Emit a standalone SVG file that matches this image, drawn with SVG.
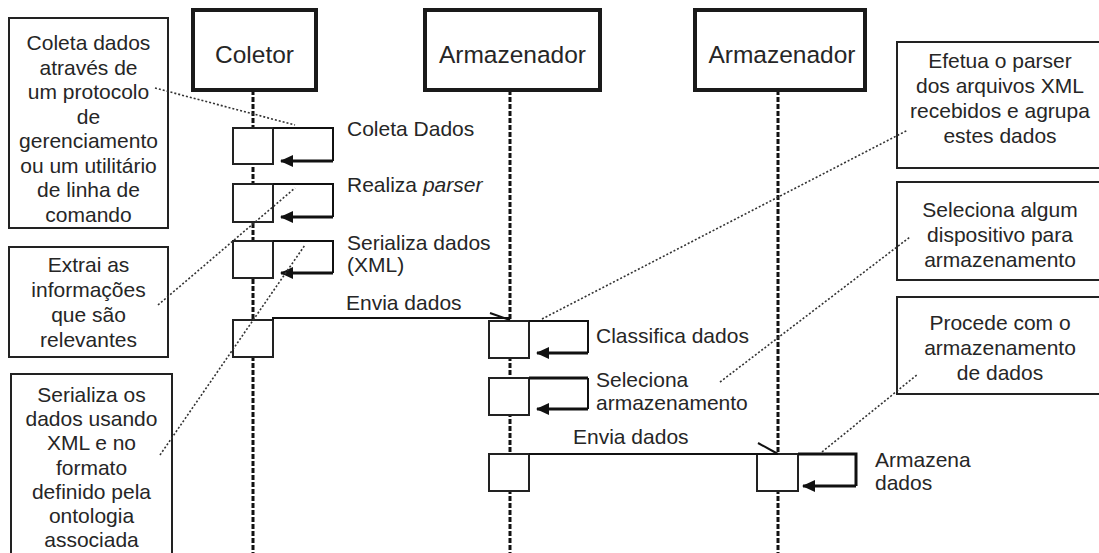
<svg xmlns="http://www.w3.org/2000/svg" width="1099" height="553" viewBox="0 0 1099 553">
<style>
text{font-family:"Liberation Sans",Arial,sans-serif;fill:#262626}
.n{font-size:21px;text-anchor:middle}
.m{font-size:21px}
.h{font-size:24.5px;text-anchor:middle}
.hdr{fill:#fff;stroke:#1a1a1a;stroke-width:4}
.note{fill:#fff;stroke:#222;stroke-width:2}
.act{fill:#fff;stroke:#222;stroke-width:2}
.life{stroke:#111;stroke-width:3;stroke-dasharray:5 2;fill:none}
.dot{stroke:#333;stroke-width:1.6;stroke-dasharray:2 2;fill:none}
.msg{stroke:#111;stroke-width:2;fill:none}
.ret{stroke:#111;stroke-width:3;fill:none}
</style>
<defs>
<marker id="ah" markerWidth="13" markerHeight="12" refX="12" refY="6" orient="auto" markerUnits="userSpaceOnUse">
<path d="M0,0 L13,6 L0,12 z" fill="#111"/>
</marker>
</defs>

<g id="lifelines">
<line class="life" x1="253" y1="90" x2="253" y2="553"/>
<line class="life" x1="510" y1="90" x2="510" y2="553"/>
<line class="life" x1="778" y1="90" x2="778" y2="553"/>
</g>

<g id="coletor">
<rect class="hdr" x="193" y="10" width="123" height="80"/>
<text class="h" x="254.5" y="63">Coletor</text>
</g>
<g id="armazenador1">
<rect class="hdr" x="425" y="10" width="175" height="80"/>
<text class="h" x="512.5" y="63">Armazenador</text>
</g>
<g id="armazenador2">
<rect class="hdr" x="695" y="10" width="170" height="80"/>
<text class="h" x="782" y="63">Armazenador</text>
</g>

<g id="note-coleta">
<rect class="note" x="9" y="18" width="159" height="210"/>
<text class="n" x="88.5" y="50">Coleta dados</text>
<text class="n" x="88.5" y="74.5">através de</text>
<text class="n" x="88.5" y="99">um protocolo</text>
<text class="n" x="88.5" y="123.5">de</text>
<text class="n" x="88.5" y="148">gerenciamento</text>
<text class="n" x="88.5" y="172.5">ou um utilitário</text>
<text class="n" x="88.5" y="197">de linha de</text>
<text class="n" x="88.5" y="221.5">comando</text>
</g>
<g id="note-extrai">
<rect class="note" x="9" y="247" width="159" height="110"/>
<text class="n" x="88.5" y="272">Extrai as</text>
<text class="n" x="88.5" y="297">informações</text>
<text class="n" x="88.5" y="322">que são</text>
<text class="n" x="88.5" y="347">relevantes</text>
</g>
<g id="note-serializa">
<rect class="note" x="11" y="374" width="161" height="190"/>
<text class="n" x="91.5" y="402">Serializa os</text>
<text class="n" x="91.5" y="426.2">dados usando</text>
<text class="n" x="91.5" y="450.4">XML e no</text>
<text class="n" x="91.5" y="474.6">formato</text>
<text class="n" x="91.5" y="498.8">definido pela</text>
<text class="n" x="91.5" y="523">ontologia</text>
<text class="n" x="91.5" y="547.2">associada</text>
</g>
<g id="note-efetua">
<rect class="note" x="897" y="42" width="210" height="126"/>
<text class="n" x="1000" y="68">Efetua o parser</text>
<text class="n" x="1000" y="93">dos arquivos XML</text>
<text class="n" x="1000" y="118">recebidos e agrupa</text>
<text class="n" x="1000" y="143">estes dados</text>
</g>
<g id="note-seleciona">
<rect class="note" x="897" y="182" width="210" height="98"/>
<text class="n" x="1000" y="217">Seleciona algum</text>
<text class="n" x="1000" y="242">dispositivo para</text>
<text class="n" x="1000" y="267">armazenamento</text>
</g>
<g id="note-procede">
<rect class="note" x="897" y="297" width="210" height="97"/>
<text class="n" x="1000" y="330">Procede com o</text>
<text class="n" x="1000" y="355">armazenamento</text>
<text class="n" x="1000" y="380">de dados</text>
</g>

<g id="activations">
<rect class="act" x="233" y="128" width="40" height="36"/>
<rect class="act" x="233" y="184" width="40" height="38"/>
<rect class="act" x="233" y="241" width="40" height="37"/>
<rect class="act" x="233" y="320" width="40" height="37"/>
<rect class="act" x="489" y="321" width="40" height="37"/>
<rect class="act" x="489" y="378" width="40" height="37"/>
<rect class="act" x="489" y="454" width="40" height="37"/>
<rect class="act" x="757" y="454" width="41" height="37"/>
</g>

<g id="connectors">
<path class="msg" d="M273,128 H333 V161"/>
<line class="ret" x1="333" y1="161" x2="281" y2="161" marker-end="url(#ah)"/>
<path class="msg" d="M273,184 H333 V217"/>
<line class="ret" x1="333" y1="217" x2="281" y2="217" marker-end="url(#ah)"/>
<path class="msg" d="M273,241 H333 V273"/>
<line class="ret" x1="333" y1="273" x2="281" y2="273" marker-end="url(#ah)"/>
<path class="msg" d="M273,320 V318 H510"/>
<line class="msg" x1="490" y1="313" x2="510" y2="320" stroke-width="1.5"/>
<path class="msg" d="M529,321 H588 V353"/>
<line class="ret" x1="588" y1="353" x2="537" y2="353" marker-end="url(#ah)"/>
<path class="ret" d="M529,378 H588"/>
<line class="msg" x1="588" y1="378" x2="588" y2="409" stroke-width="1"/>
<line class="ret" x1="588" y1="409" x2="537" y2="409" marker-end="url(#ah)"/>
<path class="msg" d="M529,454 H778"/>
<line class="msg" x1="758" y1="443" x2="778" y2="454" stroke-width="1.5"/>
<path class="ret" d="M798,454 H856 V486"/>
<line class="ret" x1="856" y1="486" x2="803" y2="486" marker-end="url(#ah)"/>
<line class="dot" x1="155" y1="88" x2="295" y2="125"/>
<line class="dot" x1="158" y1="305" x2="295" y2="188"/>
<line class="dot" x1="160" y1="455" x2="305" y2="245"/>
<line class="dot" x1="542" y1="319" x2="908" y2="130"/>
<line class="dot" x1="720" y1="382" x2="910" y2="237"/>
<line class="dot" x1="822" y1="452" x2="918" y2="374"/>
</g>

<g id="labels">
<text class="m" x="347" y="136">Coleta Dados</text>
<text class="m" x="347" y="192">Realiza <tspan font-style="italic">parser</tspan></text>
<text class="m" x="347" y="250">Serializa dados</text>
<text class="m" x="347" y="272">(XML)</text>
<text class="m" x="346" y="310">Envia dados</text>
<text class="m" x="596" y="343">Classifica dados</text>
<text class="m" x="596" y="387">Seleciona</text>
<text class="m" x="596" y="410">armazenamento</text>
<text class="m" x="573" y="444">Envia dados</text>
<text class="m" x="875" y="467">Armazena</text>
<text class="m" x="875" y="490">dados</text>
</g>
</svg>
